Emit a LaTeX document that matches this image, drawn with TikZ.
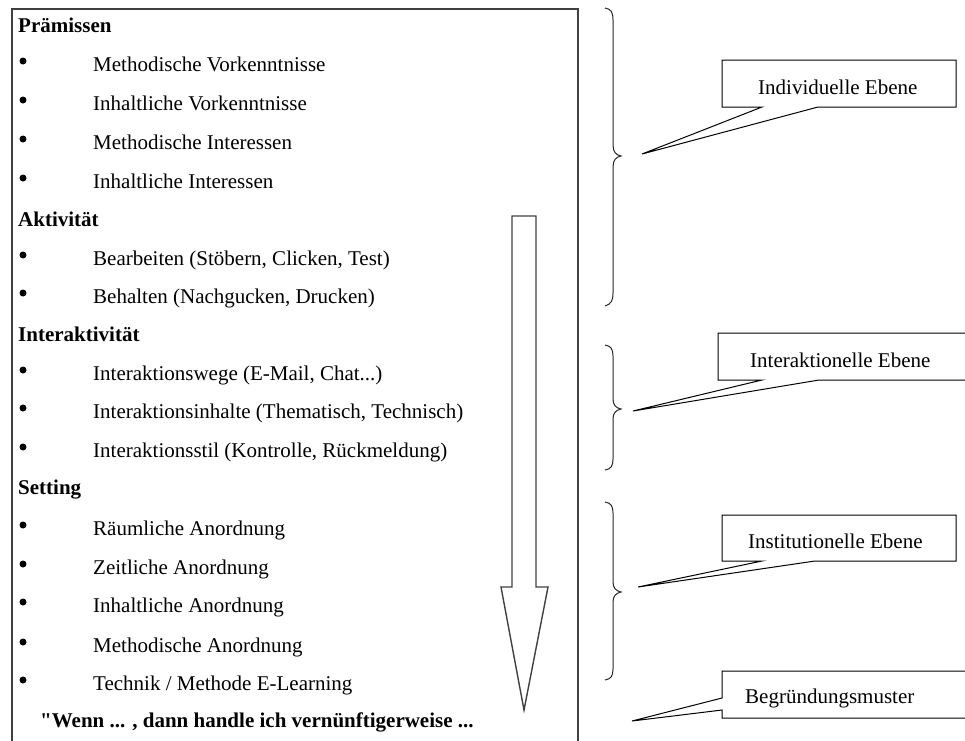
\documentclass[tikz,border=0pt]{standalone}
\usepackage{fontspec}
\setmainfont{Liberation Serif}
\newfontfamily\plainqfont{Liberation Serif}
\begin{document}
\begin{tikzpicture}[x=1pt,y=-1pt,
  txt/.style={anchor=base west,inner sep=0pt,font=\fontsize{21}{25}\selectfont},
  hdr/.style={txt,font=\fontsize{21}{25}\selectfont\bfseries},
  blt/.style={circle,fill=black,inner sep=0pt,minimum size=7pt},
  frame/.style={draw=black!75,line width=1.4pt},
  callout/.style={draw=black,line width=1pt,fill=white,line join=miter},
  brace/.style={draw=black!85,line width=1pt}]
\useasboundingbox (0,0) rectangle (965,740);
% main frame
\draw[frame] (12,760) -- (12,9) -- (578,9) -- (578,760);
% arrow
\draw[frame,line join=miter] (512,216) -- (536,216) -- (536,587) -- (548,587) -- (524,710) -- (501,587) -- (512,587) -- cycle;
% headers and items
\node[hdr] (h1) at (18,32) {Prämissen};
\node[hdr] (h2) at (18,226) {Aktivität};
\node[hdr] (h3) at (18,341) {Interaktivität};
\node[hdr] (h4) at (18,494) {Setting};
\foreach \y/\t/\n in {71/Methodische Vorkenntnisse/a1,110/Inhaltliche Vorkenntnisse/a2,149/Methodische Interessen/a3,188/Inhaltliche Interessen/a4,
  265/{Bearbeiten (Stöbern, Clicken, Test)}/b1,303/{Behalten (Nachgucken, Drucken)}/b2,
  380/{Interaktionswege (E-Mail, Chat...)}/c1,418/{Interaktionsinhalte (Thematisch, Technisch)}/c2,457/{Interaktionsstil (Kontrolle, Rückmeldung)}/c3,
  535/Räumliche Anordnung/d1,574/Zeitliche Anordnung/d2,612/Inhaltliche Anordnung/d3,652/Methodische Anordnung/d4,690/{Technik / Methode E-Learning}/d5}{
  \node[blt] (bul\n) at (23,\y-10) {};
  \node[txt] (\n) at (93,\y) {\t};
}
\node[hdr] (wenn) at (40,727) {{\plainqfont\bfseries\symbol{"22}}Wenn ... , dann handle ich vernünftigerweise ...};
% braces
\draw[brace] (605,8) .. controls (611,9) and (613,12) .. (613,20) -- (613,145) .. controls (613,152) and (616,155) .. (621,156)
  .. controls (616,157) and (613,160) .. (613,167) -- (613,293) .. controls (613,301) and (611,304) .. (605,306);
\draw[brace] (605,345) .. controls (611,346) and (613,349) .. (613,356) -- (613,399) .. controls (613,405) and (616,408) .. (621,409)
  .. controls (616,410) and (613,413) .. (613,419) -- (613,459) .. controls (613,466) and (611,469) .. (605,470);
\draw[brace] (605,502) .. controls (611,503) and (613,506) .. (613,513) -- (613,582) .. controls (613,588) and (616,591) .. (621,592)
  .. controls (616,593) and (613,596) .. (613,602) -- (613,669) .. controls (613,676) and (611,679) .. (605,680);
% callouts
\draw[callout] (722,60) -- (956,60) -- (956,107) -- (818,107) -- (642,154) -- (762,107) -- (722,107) -- cycle;
\node[txt] (ind) at (758,94) {Individuelle Ebene};
\draw[callout] (718,333) -- (975,333) -- (975,380) -- (819,380) -- (633,411) -- (762,380) -- (718,380) -- cycle;
\node[txt] (inter) at (750,367) {Interaktionelle Ebene};
\draw[callout] (722,515) -- (956,515) -- (956,561) -- (815,561) -- (638,587) -- (762,561) -- (722,561) -- cycle;
\node[txt] (inst) at (748,548) {Institutionelle Ebene};
\draw[callout] (722,671) -- (975,671) -- (975,718) -- (722,718) -- (722,710) -- (632,721) -- (722,698) -- cycle;
\node[txt] (begr) at (745,703) {Begründungsmuster};
\end{tikzpicture}
\end{document}
